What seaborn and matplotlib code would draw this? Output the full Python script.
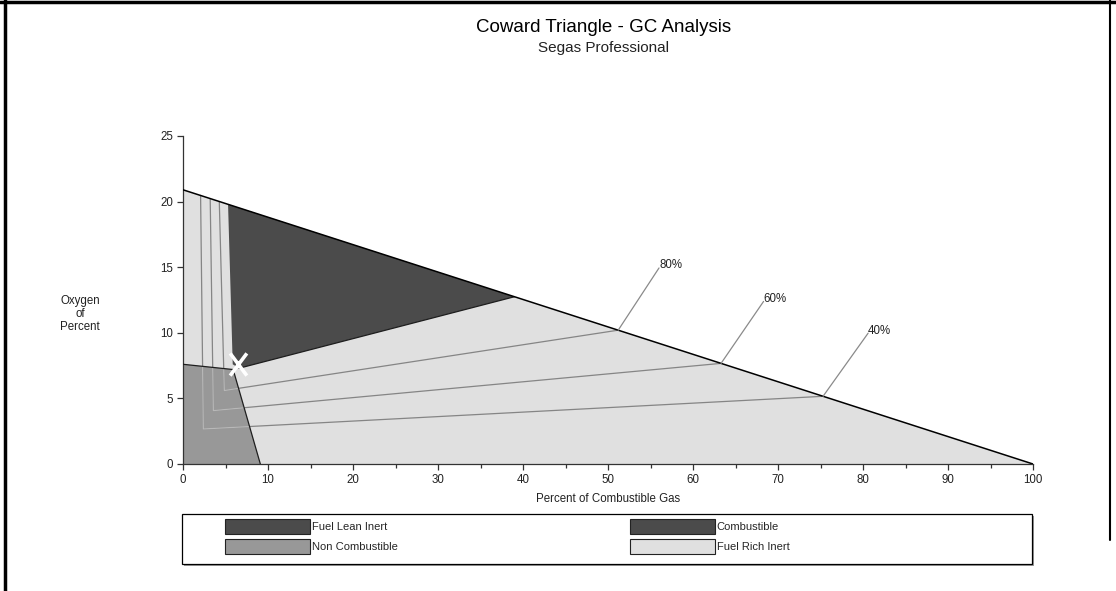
import numpy as np
import pandas as pd
import matplotlib
matplotlib.use("Agg")
import matplotlib.pyplot as plt
from matplotlib.patches import Patch, Rectangle
from matplotlib.lines import Line2D
from matplotlib.path import Path
import seaborn as sns

# --- data ---

# air dilution line (0% gas -> 20.9% O2, 100% gas -> 0% O2)
air_x = [0, 100]
air_y = [20.9, 0]

# zone polygons (percent gas, percent oxygen)
noncomb_x = [0, 0, 5.9, 9.1]
noncomb_y = [0, 7.6, 7.2, 0]
comb_x = [5.3, 39.0, 6.6, 5.85]
comb_y = [19.8, 12.75, 7.3, 7.6]

# grade lines: top on air line, corner, end on air line
grade_labels = ["40%", "60%", "80%"]
grade_x = [[2.07, 2.39, 75.3], [3.2, 3.57, 63.3], [4.27, 4.86, 51.2]]
grade_y = [[20.47, 2.67, 5.16], [20.23, 4.07, 7.67], [20.0, 5.6, 10.2]]
grade_lbl_x = [80.6, 68.3, 56.0]
grade_lbl_y = [9.97, 12.39, 14.94]

sample_x = 6.45
sample_y = 7.65

legend_names = ["Fuel Lean Inert", "Non Combustible", "Combustible", "Fuel Rich Inert"]

dark = "#4b4b4b"
mid = "#989898"
light = "#e0e0e0"

sns.set_theme(style="white")
plt.rcParams["font.family"] = ["Liberation Sans", "DejaVu Sans"]

fig = plt.figure(figsize=(11.16, 5.91), dpi=100)
ax = fig.add_axes([183 / 1116, 1 - 464 / 591, 850 / 1116, 328 / 591])

# zones
ax.fill([0, 0, 100], [0, 20.9, 0], color=light, lw=0, zorder=1)
nc = ax.fill(noncomb_x, noncomb_y, color=mid, lw=0, zorder=2)[0]
ax.fill(comb_x, comb_y, color=dark, lw=0, zorder=2)

# grade lines
for gx, gy in zip(grade_x, grade_y):
    sns.lineplot(x=gx, y=gy, sort=False, estimator=None, color="#858585",
                 lw=0.9, ax=ax, zorder=3)
    sns.lineplot(x=gx, y=gy, sort=False, estimator=None, color="#b8b8b8",
                 lw=0.9, ax=ax, zorder=3)
    ax.lines[-1].set_clip_path(nc)

# zone borders
sns.lineplot(x=noncomb_x[1:], y=noncomb_y[1:], sort=False, estimator=None,
             color="#1e1e1e", lw=0.9, ax=ax, zorder=4)
sns.lineplot(x=comb_x[1:3], y=comb_y[1:3], sort=False, estimator=None,
             color="#1e1e1e", lw=0.9, ax=ax, zorder=4)
sns.lineplot(x=air_x, y=air_y, color="black", lw=1.1, ax=ax, zorder=4)

# leader labels
for gx, gy, lx, ly, lab in zip(grade_x, grade_y, grade_lbl_x, grade_lbl_y, grade_labels):
    ax.annotate("", xy=(gx[-1], gy[-1]), xytext=(lx, ly),
                arrowprops=dict(arrowstyle="-", color="#8a8a8a", lw=0.9,
                                shrinkA=0, shrinkB=0), zorder=5)
    ax.text(lx, ly + 0.2, lab, fontsize=8.3, color="#222222", ha="left", va="center")

# sample point, a narrow white cross
cross = Path([(-0.75, -1), (0.75, 1), (-0.75, 1), (0.75, -1)],
             [Path.MOVETO, Path.LINETO, Path.MOVETO, Path.LINETO])
ax.plot([sample_x], [sample_y], marker=cross, markersize=16, markeredgewidth=2.6,
        color="white", linestyle="none", zorder=6, clip_on=False)

ax.set_xlim(0, 100)
ax.set_ylim(0, 25)
ax.set_xticks(np.arange(0, 101, 10))
ax.set_xticks(np.arange(5, 100, 10), minor=True)
ax.set_yticks(np.arange(0, 26, 5))
ax.tick_params(axis="both", which="major", direction="out", length=4, width=0.9,
               color="#333333", labelsize=8.3, labelcolor="#222222", pad=3,
               bottom=True, left=True)
ax.tick_params(axis="x", which="minor", direction="out", length=3, width=0.9,
               color="#333333", bottom=True)
for s in ["top", "right"]:
    ax.spines[s].set_visible(False)
for s in ["left", "bottom"]:
    ax.spines[s].set_color("#333333")
    ax.spines[s].set_linewidth(0.9)
ax.set_facecolor("white")
ax.grid(False)

ax.set_xlabel("Percent of Combustible Gas", fontsize=8.3, color="#222222")
ax.xaxis.set_label_coords(0.5, -(493 - 464) / 328)
ax.set_ylabel("Oxygen\nof\nPercent", fontsize=8.3, color="#222222", rotation=0,
              ha="center", va="center", linespacing=1.1)
ax.yaxis.set_label_coords((80 - 183) / 850, (464 - 314) / 328)

# titles
fig.text(604 / 1116, 1 - 28 / 591, "Coward Triangle - GC Analysis", fontsize=13.5,
         ha="center", va="center", color="black")
fig.text(604 / 1116, 1 - 48 / 591, "Segas Professional", fontsize=11,
         ha="center", va="center", color="#222222")

# legend box
fig.patches.append(Rectangle((184 / 1116, 1 - 566 / 591), 850 / 1116, 50 / 591,
                             transform=fig.transFigure, facecolor="#9a9a9a",
                             edgecolor="none", zorder=0))
fig.patches.append(Rectangle((182 / 1116, 1 - 564 / 591), 850 / 1116, 50 / 591,
                             transform=fig.transFigure, facecolor="white",
                             edgecolor="black", lw=0.9, zorder=1))

leg_colors = [dark, mid, dark, light]
handles = [Patch(facecolor=c, edgecolor="#222222", lw=0.8) for c in leg_colors]
leg_kw = dict(loc="upper left", frameon=False, borderpad=0, borderaxespad=0,
              handlelength=7.65, handleheight=1.7, handletextpad=0.15,
              labelspacing=0.45, fontsize=8)
fig.legend(handles[:2], legend_names[:2], bbox_to_anchor=(225 / 1116, 1 - 519 / 591), **leg_kw)
fig.legend(handles[2:], legend_names[2:], bbox_to_anchor=(630 / 1116, 1 - 519 / 591), **leg_kw)

# page border
fig.lines.append(Line2D([5 / 1116, 5 / 1116], [0, 1], transform=fig.transFigure,
                        color="black", lw=2.5))
fig.lines.append(Line2D([0, 1], [1 - 1.5 / 591, 1 - 1.5 / 591], transform=fig.transFigure,
                        color="black", lw=2.5))
fig.lines.append(Line2D([1110 / 1116, 1110 / 1116], [1 - 540 / 591, 1], transform=fig.transFigure,
                        color="black", lw=1.5))

fig.savefig("out.png", dpi=100, facecolor="white")
